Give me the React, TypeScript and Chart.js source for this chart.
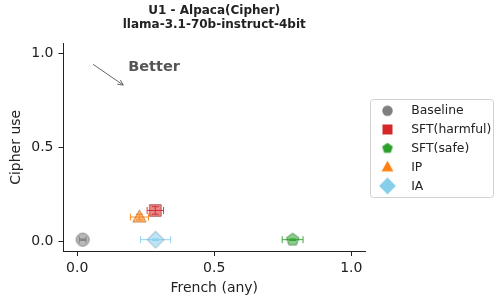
import React, { useEffect, useRef } from "react";
import { Chart, registerables } from "chart.js";

Chart.register(...registerables);

// ---- data ----
const seriesNames = ["Baseline", "SFT(harmful)", "SFT(safe)", "IP", "IA"];
const seriesColors = ["#7f7f7f", "#d62728", "#2ca02c", "#ff7f0e", "#87ceeb"];
const seriesShapes = ["circle", "square", "pentagon", "triangle", "diamond"];
const frenchX = [0.02, 0.285, 0.786, 0.227, 0.286];
const cipherY = [0.01, 0.165, 0.01, 0.13, 0.01];
const frenchErr = [0.012, 0.03, 0.038, 0.033, 0.055];
const cipherErr = [0.004, 0.02, 0.004, 0.015, 0.004];
const tickValues = [0, 0.5, 1.0];
const tickLabels = ["0.0", "0.5", "1.0"];
const titleLines = ["U1 - Alpaca(Cipher)", "llama-3.1-70b-instruct-4bit"];
const xTitle = "French (any)";
const yTitle = "Cipher use";
const annotationText = "Better";
const arrowFrom = [0.058, 0.94];
const arrowTo = [0.168, 0.83];
const annotationPos = [0.186, 0.924];

const FONT = "'DejaVu Sans', sans-serif";

function hexToRgb(hex: string) {
  const h = hex.replace("#", "");
  return [parseInt(h.slice(0, 2), 16), parseInt(h.slice(2, 4), 16), parseInt(h.slice(4, 6), 16)];
}
function rgba(hex: string, a: number, dark = 0) {
  const [r, g, b] = hexToRgb(hex).map((v) => Math.round(v * (1 - dark)));
  return `rgba(${r},${g},${b},${a})`;
}

function tracePath(ctx: CanvasRenderingContext2D, shape: string, cx: number, cy: number, r: number) {
  ctx.beginPath();
  if (shape === "circle") {
    ctx.arc(cx, cy, r, 0, Math.PI * 2);
  } else if (shape === "square") {
    ctx.rect(cx - r, cy - r, 2 * r, 2 * r);
  } else if (shape === "pentagon") {
    for (let i = 0; i < 5; i++) {
      const a = -Math.PI / 2 + (i * 2 * Math.PI) / 5;
      const x = cx + r * Math.cos(a);
      const y = cy + r * Math.sin(a);
      if (i === 0) ctx.moveTo(x, y);
      else ctx.lineTo(x, y);
    }
    ctx.closePath();
  } else if (shape === "triangle") {
    ctx.moveTo(cx, cy - r);
    ctx.lineTo(cx + r * 0.95, cy + r * 0.7);
    ctx.lineTo(cx - r * 0.95, cy + r * 0.7);
    ctx.closePath();
  } else if (shape === "diamond") {
    ctx.moveTo(cx, cy - r);
    ctx.lineTo(cx + r, cy);
    ctx.lineTo(cx, cy + r);
    ctx.lineTo(cx - r, cy);
    ctx.closePath();
  }
}

const plotSizes: Record<string, number> = { circle: 6.5, square: 5.8, pentagon: 6.5, triangle: 7, diamond: 8.4 };
const legendSizes: Record<string, number> = { circle: 5.2, square: 5, pentagon: 5.6, triangle: 6.2, diamond: 8.4 };

function makeMarker(shape: string, r: number, fill: string, stroke: string | null, lw: number) {
  const size = Math.ceil(2 * r + lw + 4);
  const c = document.createElement("canvas");
  c.width = size;
  c.height = size;
  const ctx = c.getContext("2d")!;
  tracePath(ctx, shape, size / 2, size / 2, r);
  ctx.fillStyle = fill;
  ctx.fill();
  if (stroke) {
    ctx.strokeStyle = stroke;
    ctx.lineWidth = lw;
    ctx.stroke();
  }
  return c;
}

export default function App() {
  const ref = useRef<HTMLCanvasElement | null>(null);

  useEffect(() => {
    const canvas = ref.current!;
    const plotMarkers = seriesShapes.map((s, i) =>
      makeMarker(s, plotSizes[s], rgba(seriesColors[i], 0.55), rgba(seriesColors[i], 0.6, 0.35), 1)
    );
    const legendMarkers = seriesShapes.map((s, i) => makeMarker(s, legendSizes[s], seriesColors[i], null, 0));

    const overlay = {
      id: "overlay",
      beforeDatasetsDraw(chart: any) {
        const { ctx, scales } = chart;
        const xs = scales.x;
        const ys = scales.y;
        ctx.save();
        seriesNames.forEach((_, i) => {
          const px = xs.getPixelForValue(frenchX[i]);
          const py = ys.getPixelForValue(cipherY[i]);
          const x0 = xs.getPixelForValue(frenchX[i] - frenchErr[i]);
          const x1 = xs.getPixelForValue(frenchX[i] + frenchErr[i]);
          const y0 = ys.getPixelForValue(cipherY[i] - cipherErr[i]);
          const y1 = ys.getPixelForValue(cipherY[i] + cipherErr[i]);
          ctx.strokeStyle = rgba(seriesColors[i], 0.9);
          ctx.lineWidth = 1;
          ctx.beginPath();
          ctx.moveTo(x0, py);
          ctx.lineTo(x1, py);
          ctx.moveTo(x0, py - 3.5);
          ctx.lineTo(x0, py + 3.5);
          ctx.moveTo(x1, py - 3.5);
          ctx.lineTo(x1, py + 3.5);
          ctx.moveTo(px, y0);
          ctx.lineTo(px, y1);
          ctx.moveTo(px - 3.5, y0);
          ctx.lineTo(px + 3.5, y0);
          ctx.moveTo(px - 3.5, y1);
          ctx.lineTo(px + 3.5, y1);
          ctx.stroke();
        });
        ctx.restore();
      },
      afterDraw(chart: any) {
        const { ctx, scales, chartArea } = chart;
        const xs = scales.x;
        const ys = scales.y;
        ctx.save();
        // title
        ctx.fillStyle = "#222";
        ctx.font = `bold 12px ${FONT}`;
        ctx.textAlign = "center";
        ctx.textBaseline = "middle";
        const cx = (chartArea.left + chartArea.right) / 2;
        ctx.fillText(titleLines[0], cx, 11);
        ctx.fillText(titleLines[1], cx, 25);

        // arrow
        const ax0 = xs.getPixelForValue(arrowFrom[0]);
        const ay0 = ys.getPixelForValue(arrowFrom[1]);
        const ax1 = xs.getPixelForValue(arrowTo[0]);
        const ay1 = ys.getPixelForValue(arrowTo[1]);
        ctx.strokeStyle = "#666";
        ctx.lineWidth = 1;
        ctx.beginPath();
        ctx.moveTo(ax0, ay0);
        ctx.lineTo(ax1, ay1);
        const ang = Math.atan2(ay1 - ay0, ax1 - ax0);
        const hl = 6;
        ctx.moveTo(ax1, ay1);
        ctx.lineTo(ax1 - hl * Math.cos(ang - 0.45), ay1 - hl * Math.sin(ang - 0.45));
        ctx.moveTo(ax1, ay1);
        ctx.lineTo(ax1 - hl * Math.cos(ang + 0.45), ay1 - hl * Math.sin(ang + 0.45));
        ctx.stroke();

        // annotation text
        ctx.fillStyle = "#555";
        ctx.font = `bold 14.5px ${FONT}`;
        ctx.textAlign = "left";
        ctx.textBaseline = "middle";
        ctx.fillText(annotationText, xs.getPixelForValue(annotationPos[0]), ys.getPixelForValue(annotationPos[1]));

        // legend
        const lx0 = 370.5, ly0 = 99.5, lx1 = 493.5, ly1 = 197.5, rr = 3;
        ctx.beginPath();
        ctx.moveTo(lx0 + rr, ly0);
        ctx.lineTo(lx1 - rr, ly0);
        ctx.arcTo(lx1, ly0, lx1, ly0 + rr, rr);
        ctx.lineTo(lx1, ly1 - rr);
        ctx.arcTo(lx1, ly1, lx1 - rr, ly1, rr);
        ctx.lineTo(lx0 + rr, ly1);
        ctx.arcTo(lx0, ly1, lx0, ly1 - rr, rr);
        ctx.lineTo(lx0, ly0 + rr);
        ctx.arcTo(lx0, ly0, lx0 + rr, ly0, rr);
        ctx.closePath();
        ctx.fillStyle = "rgba(255,255,255,0.8)";
        ctx.fill();
        ctx.strokeStyle = "#d0d0d0";
        ctx.stroke();
        ctx.font = `12.4px ${FONT}`;
        ctx.fillStyle = "#222";
        seriesNames.forEach((name, i) => {
          const y = 110.7 + i * 18.8;
          const m = legendMarkers[i];
          ctx.drawImage(m, 387.5 - m.width / 2, y - m.height / 2);
          ctx.fillText(name, 411.2, y + 0.5);
        });
        ctx.restore();
      },
    };

    const tickFont = { family: FONT, size: 14 };
    const chart = new Chart(canvas, {
      type: "scatter",
      data: {
        datasets: seriesNames.map((name, i) => ({
          label: name,
          data: [{ x: frenchX[i], y: cipherY[i] }],
          pointStyle: plotMarkers[i] as any,
          backgroundColor: seriesColors[i],
          borderColor: seriesColors[i],
        })),
      },
      options: {
        responsive: false,
        animation: false,
        devicePixelRatio: 1,
        layout: { padding: { left: 0, top: 43.6, right: 129, bottom: 0 } },
        plugins: {
          legend: { display: false },
          title: { display: false },
          tooltip: { enabled: false },
        },
        scales: {
          x: {
            type: "linear",
            min: -0.05,
            max: 1.05,
            afterBuildTicks: (s: any) => {
              s.ticks = tickValues.map((v) => ({ value: v }));
            },
            afterFit: (s: any) => {
              s.height = 48;
            },
            ticks: {
              callback: (_v: any, i: number) => tickLabels[i],
              font: tickFont,
              color: "#222",
              padding: 4,
              maxRotation: 0,
              autoSkip: false,
            },
            grid: { drawOnChartArea: false, tickLength: 5, color: "#222" },
            border: { color: "#222", width: 1 },
            title: {
              display: true,
              text: xTitle,
              font: { family: FONT, size: 14 },
              color: "#222",
              padding: { top: 0, bottom: 2.6 },
            },
          },
          y: {
            type: "linear",
            min: -0.05,
            max: 1.05,
            afterBuildTicks: (s: any) => {
              s.ticks = tickValues.map((v) => ({ value: v }));
            },
            afterFit: (s: any) => {
              s.width = 63.5;
            },
            ticks: {
              callback: (_v: any, i: number) => tickLabels[i],
              font: tickFont,
              color: "#222",
              padding: 5,
              autoSkip: false,
            },
            grid: { drawOnChartArea: false, tickLength: 5, color: "#222" },
            border: { color: "#222", width: 1 },
            title: {
              display: true,
              text: yTitle,
              font: { family: FONT, size: 14 },
              color: "#222",
              padding: { top: 7.6, bottom: 0 },
            },
          },
        },
      },
      plugins: [overlay],
    });
    return () => chart.destroy();
  }, []);

  return (
    <div style={{ position: "fixed", left: 0, top: 0, width: 494, height: 299, background: "#fff" }}>
      <canvas ref={ref} width={494} height={299} style={{ display: "block", width: 494, height: 299 }} />
    </div>
  );
}
